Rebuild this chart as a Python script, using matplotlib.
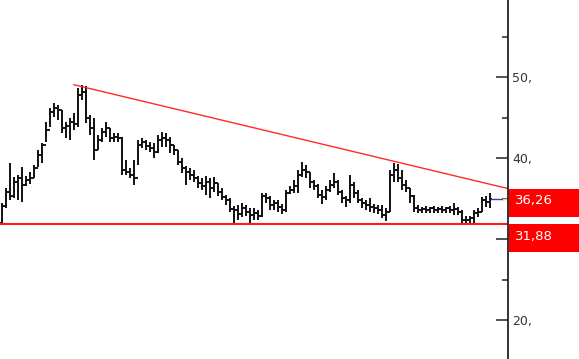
import numpy as np
import matplotlib
matplotlib.use("Agg")
import matplotlib.pyplot as plt
from matplotlib.patches import Rectangle
from matplotlib.ticker import MultipleLocator, FuncFormatter

# daily bars (price units)
high = [34.48, 36.33, 39.42, 37.69, 37.94, 38.93, 37.82, 38.31, 39.17, 41.03,
        41.89, 44.48, 46.21, 46.83, 46.58, 45.96, 44.48, 44.98, 45.59, 48.68,
        49.05, 48.93, 45.35, 44.98, 42.88, 43.74, 44.48, 43.74, 43.12, 43.12,
        42.63, 39.79, 38.80, 39.79, 42.26, 42.51, 42.26, 42.01, 41.89, 42.88,
        43.25, 43.12, 42.63, 41.64, 41.03, 40.04, 39.05, 38.80, 38.56, 37.82,
        37.57, 37.82, 37.57, 37.69, 36.95, 36.33, 35.47, 35.10, 34.11, 34.23,
        34.48, 34.23, 33.86, 33.86, 33.62, 35.72, 35.72, 35.35, 34.85, 34.85,
        34.36, 36.09, 36.58, 37.32, 38.56, 39.54, 39.17, 38.31, 37.32, 36.83,
        36.09, 36.58, 37.32, 38.19, 37.32, 36.09, 35.35, 37.94, 37.08, 36.09,
        35.10, 34.85, 35.10, 34.36, 34.23, 34.23, 33.86, 38.56, 39.42, 39.30,
        38.56, 37.32, 36.33, 35.47, 34.23, 33.99, 34.11, 33.99, 34.11, 33.99,
        34.11, 33.99, 34.11, 34.48, 33.99, 33.62, 32.88, 32.88, 33.62, 33.86,
        35.22, 35.35, 35.72]
low = [31.89, 33.86, 34.85, 35.10, 34.85, 34.61, 36.58, 36.83, 37.57, 38.93,
       39.42, 42.01, 43.86, 45.10, 44.73, 43.12, 42.51, 42.26, 43.49, 43.86,
       47.20, 44.36, 42.88, 39.79, 41.03, 42.01, 42.63, 42.01, 42.01, 42.01,
       37.94, 37.94, 37.57, 36.70, 39.17, 41.27, 41.03, 40.78, 40.04, 40.65,
       41.40, 41.40, 40.65, 40.41, 39.17, 38.19, 36.70, 37.32, 37.08, 36.33,
       36.09, 35.47, 35.10, 35.84, 35.35, 34.85, 34.23, 33.37, 31.89, 32.38,
       32.75, 32.88, 32.02, 32.38, 32.38, 32.75, 34.48, 33.62, 33.62, 33.37,
       33.12, 33.37, 35.59, 35.72, 35.72, 37.69, 37.57, 36.33, 36.09, 35.10,
       34.36, 34.85, 35.84, 36.33, 35.47, 34.48, 33.99, 34.48, 35.10, 34.48,
       33.86, 33.62, 33.37, 33.25, 33.12, 32.63, 32.26, 33.37, 37.08, 37.08,
       36.09, 35.84, 34.48, 33.37, 33.25, 33.25, 33.25, 33.25, 33.25, 33.25,
       33.25, 33.25, 33.25, 33.00, 33.00, 32.02, 32.02, 32.02, 32.02, 32.75,
       33.37, 33.99, 33.86]
close = [34.11, 35.84, 35.35, 37.08, 37.57, 36.70, 37.32, 37.57, 38.80, 40.41,
         41.64, 43.49, 45.72, 46.21, 45.96, 43.74, 43.99, 44.48, 44.23, 47.82,
         48.19, 44.98, 43.74, 41.03, 42.26, 43.25, 43.74, 42.51, 42.63, 42.51,
         38.56, 38.31, 37.94, 37.57, 41.64, 42.01, 41.52, 41.27, 40.78, 42.26,
         42.51, 42.26, 41.64, 41.03, 39.54, 38.80, 38.31, 37.94, 37.57, 36.95,
         36.58, 37.08, 36.33, 36.95, 35.84, 35.22, 34.85, 33.74, 33.62, 33.12,
         33.86, 33.37, 33.00, 33.25, 32.88, 35.35, 35.10, 34.23, 34.48, 33.99,
         33.62, 35.72, 36.09, 36.58, 37.94, 38.56, 38.31, 37.08, 36.58, 35.47,
         35.22, 36.09, 36.70, 37.08, 35.84, 35.10, 34.85, 36.70, 35.72, 34.85,
         34.48, 34.23, 33.99, 33.86, 33.62, 33.00, 33.37, 37.94, 38.56, 37.57,
         36.70, 36.33, 35.35, 33.86, 33.62, 33.74, 33.62, 33.86, 33.62, 33.74,
         33.62, 33.86, 33.62, 33.74, 33.37, 32.38, 32.38, 32.63, 33.25, 33.37,
         34.85, 34.61, 34.98]
opens = [32.00] + close[:-1]

# drawn lines
trend_x = [17.8, 126.5]
trend_y = [49.10, 36.26]
support = 31.88
last_price = 34.98
box_labels = ["36,26", "31,88"]
box_values = [36.26, 31.88]
hidden_ticks = [30]  # covered by the price box

W, H = 579, 359
fig = plt.figure(figsize=(W / 100, H / 100), dpi=100)
ax = fig.add_axes([0, 0, 508 / W, 1])

idx = np.arange(len(close))
bar_col = "#111111"
ax.vlines(idx, low, high, color=bar_col, lw=1.4)
ax.hlines(opens, idx - 0.5, idx, color=bar_col, lw=1.4)
ax.hlines(close, idx, idx + 0.5, color=bar_col, lw=1.4)

ax.plot(trend_x, trend_y, color="#ff2a2a", lw=1.0, solid_capstyle="butt")
ax.axhline(support, color="#ff1a1a", lw=1.5)
ax.plot([122.3, 125.3], [last_price, last_price], color="#3a3aa0", lw=1.0)
ax.plot([125.3, 126.5], [last_price, last_price], color="#e8e060", lw=1.0)

ax.set_xlim(-0.5, 126.5)
ax.set_ylim(15.22, 59.54)

for s in ["left", "top", "bottom"]:
    ax.spines[s].set_visible(False)
ax.spines["right"].set_color("#222222")
ax.spines["right"].set_linewidth(1.3)
ax.set_xticks([])
ax.yaxis.tick_right()
ax.yaxis.set_major_locator(MultipleLocator(10))
ax.yaxis.set_minor_locator(MultipleLocator(5))
ax.yaxis.set_major_formatter(
    FuncFormatter(lambda v, p: "" if round(v) in hidden_ticks else "%d," % v))
ax.tick_params(axis="y", which="major", direction="in", length=8.5, width=1.1,
               color="#222222", labelsize=9, labelcolor="#333333", pad=3)
ax.tick_params(axis="y", which="minor", direction="in", length=4.3, width=1.1,
               color="#222222")

# price boxes on the axis
for lab, val in zip(box_labels, box_values):
    ytop = ax.transData.transform((0, val))[1] / H
    fig.add_artist(Rectangle((509 / W, ytop - 28 / H), 70 / W, 28 / H,
                             transform=fig.transFigure, color="#ff0000",
                             zorder=5, lw=0))
    fig.text(515 / W, ytop - 12 / H, lab, color="white", fontsize=9.5,
             va="center", ha="left", zorder=6)

fig.savefig("out.png", dpi=100)
